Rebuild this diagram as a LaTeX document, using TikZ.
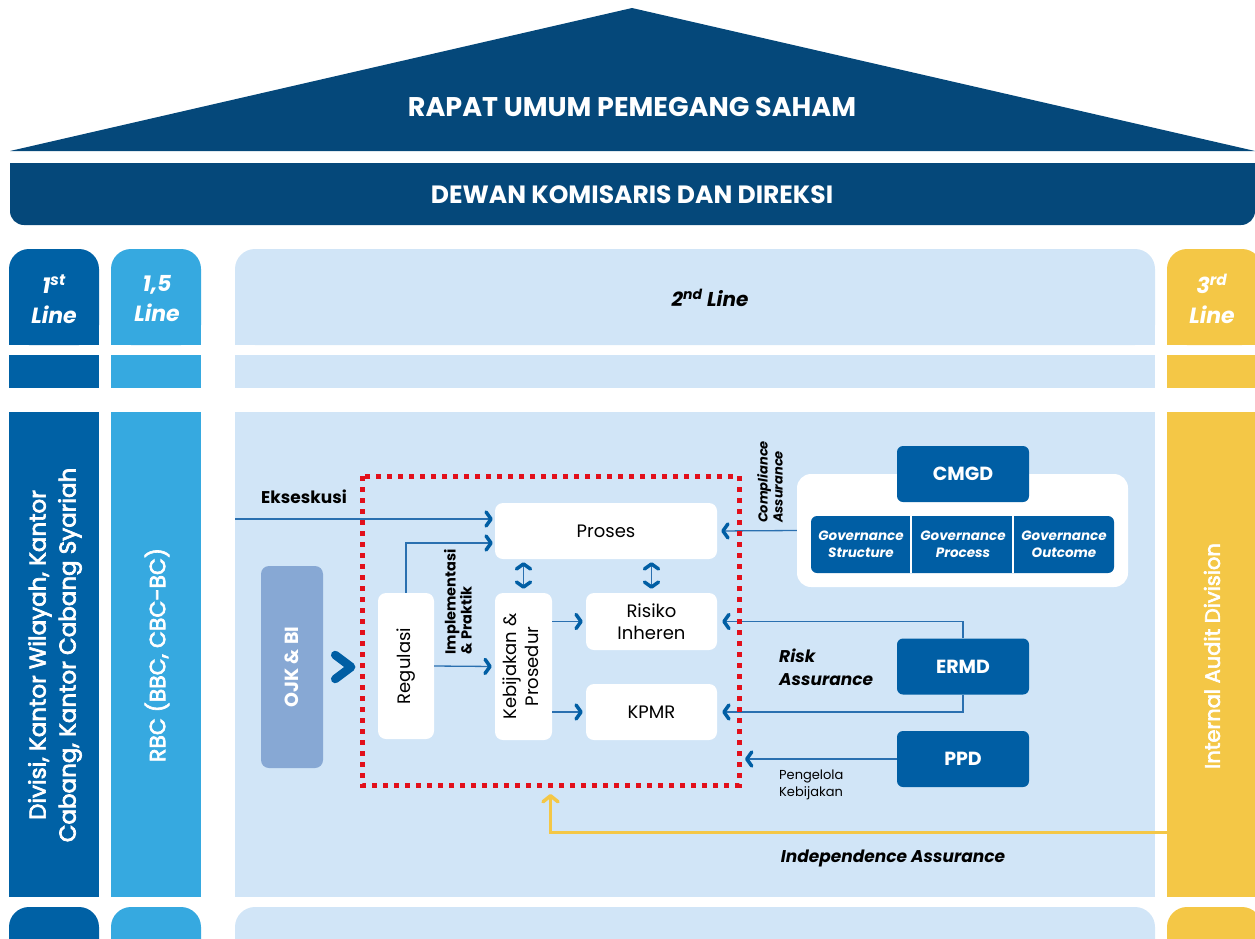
\documentclass[tikz,border=0pt]{standalone}
\usepackage{fontspec}
\setmainfont{Poppins}
\newfontfamily\medfont{Poppins}[FakeBold=3]
\usetikzlibrary{arrows.meta}

\definecolor{roofblue}{HTML}{05487A}
\definecolor{firstblue}{HTML}{0061A5}
\definecolor{halfblue}{HTML}{36A9E0}
\definecolor{secondblue}{HTML}{D1E5F7}
\definecolor{thirdyellow}{HTML}{F4C746}
\definecolor{unitblue}{HTML}{005EA4}
\definecolor{ojkblue}{HTML}{87A8D4}
\definecolor{linkblue}{HTML}{2A70B0}
\definecolor{dotred}{HTML}{E2101B}

\begin{document}
\begin{tikzpicture}[x=1pt, y=-1pt,
    every node/.style={inner sep=0pt},
    chev/.tip={Straight Barb[length=5pt,width=14pt,line width=3.5pt,round,color=unitblue]},
    ychev/.tip={Straight Barb[length=6pt,width=15pt,line width=3.5pt,round,color=thirdyellow]},
    link/.style={draw=linkblue, line width=1.3pt, -{chev}},
    twoway/.style={draw=linkblue, line width=1.2pt, {chev}-{chev}, shorten <=3pt, shorten >=4pt},
    yellowlink/.style={draw=thirdyellow, line width=3pt, -{ychev}},
    whitebox/.style={fill=white, rounded corners=8pt, align=center, font=\fontsize{18}{22}\selectfont},
    unitbox/.style={fill=unitblue, rounded corners=6pt, text=white, font=\bfseries\fontsize{19}{22}\selectfont, minimum width=132pt, minimum height=56pt},
    govtext/.style={text=white, align=center, minimum width=100pt, minimum height=57pt, font=\bfseries\itshape\fontsize{13.5}{17}\selectfont},
    colhead/.style={text=white, align=center, font=\bfseries\itshape\fontsize{22}{30}\selectfont},
    coltext/.style={rotate=90, text=white, align=center},
    boldlbl/.style={align=left, font=\bfseries\fontsize{17}{20}\selectfont},
    asslbl/.style={align=left, font=\bfseries\itshape\fontsize{17}{23}\selectfont}]

    \useasboundingbox (0,0) rectangle (1255,938);
    \clip (0,0) rectangle (1255,938);

    % Atap
    \fill[roofblue] (10,151) -- (632,8) -- (1255,151) -- cycle;
    \node[text=white, font=\bfseries\fontsize{27}{30}\selectfont] (rups) at (632,107) {RAPAT UMUM PEMEGANG SAHAM};
    \fill[roofblue, rounded corners=14pt] (10,163) rectangle (1255,225);
    \fill[roofblue] (10,163) rectangle (1255,190);
    \node[text=white, font=\bfseries\fontsize{25}{30}\selectfont] (dekom) at (632,195) {DEWAN KOMISARIS DAN DIREKSI};

    % Kolom
    \foreach \xa/\xb/\col in {9/99/firstblue, 111/201/halfblue, 235/1155/secondblue, 1167/1262/thirdyellow} {
        \fill[\col, rounded corners=20pt] (\xa,249) rectangle (\xb,345);
        \fill[\col] (\xa,290) rectangle (\xb,345);
        \fill[\col] (\xa,355) rectangle (\xb,388);
        \fill[\col] (\xa,412) rectangle (\xb,897);
        \fill[\col, rounded corners=20pt] (\xa,907) rectangle (\xb,960);
    }

    \node[colhead] (first) at (54,299) {1\textsuperscript{st}\\Line};
    \node[colhead] (half) at (157,299) {1,5\\Line};
    \node[colhead, text=black, font=\bfseries\itshape\fontsize{20}{24}\selectfont] (second) at (710,298) {2\textsuperscript{nd} Line};
    \node[colhead] (third) at (1212,299) {3\textsuperscript{rd}\\Line};

    \node[coltext, font=\medfont\fontsize{23}{30}\selectfont] (divisi) at (55,655) {Divisi, Kantor Wilayah, Kantor\\Cabang, Kantor Cabang Syariah};
    \node[coltext, font=\medfont\fontsize{22}{26}\selectfont] (rbc) at (157,655) {RBC (BBC, CBC-BC)};
    \node[coltext, font=\medfont\fontsize{21}{26}\selectfont] (iad) at (1212,656) {Internal Audit Division};

    % Regulator
    \node[fill=ojkblue, rounded corners=8pt, minimum width=62pt, minimum height=202pt, text=white, font=\bfseries\fontsize{19}{22}\selectfont] (ojk) at (292,667) {\rotatebox{90}{OJK \& BI}};
    \draw[unitblue, line width=8.5pt, line cap=round, line join=round] ([shift={(12,-12)}]ojk.east) -- ++(16,12) -- ++(-16,12);

    % Batas merah (digambar nanti)
    \node[outer sep=0pt, minimum width=377pt, minimum height=309pt] (redbox) at (550.5,630.5) {};

    % Kotak proses
    \node[whitebox, minimum width=222pt, minimum height=56pt] (proses) at (606,531) {Proses};
    \node[whitebox, minimum width=131pt, minimum height=57pt] (risiko) at (651.5,621.5) {Risiko\\Inheren};
    \node[whitebox, minimum width=131pt, minimum height=56pt] (kpmr) at (651.5,712) {KPMR};
    \node[whitebox, minimum width=56pt, minimum height=146pt] (reg) at (406,666) {\rotatebox{90}{Regulasi}};
    \node[whitebox, minimum width=57pt, minimum height=147pt] (keb) at (523.5,666.5) {\rotatebox{90}{\begin{tabular}{@{}c@{}}Kebijakan \&\\Prosedur\end{tabular}}};

    % Governance
    \node[fill=white, rounded corners=14pt, minimum width=331pt, minimum height=113pt] (govbox) at (962.5,530.5) {};
    \node[unitbox] (cmgd) at (963,474) {CMGD};
    \fill[unitblue, rounded corners=6pt] (811,516) rectangle (1114,573);
    \node[govtext] (gstruct) at (861,544.5) {Governance\\Structure};
    \node[govtext] (gproc) at (963,544.5) {Governance\\Process};
    \node[govtext] (gout) at (1064,544.5) {Governance\\Outcome};
    \draw[white, line width=2.5pt] (gstruct.north east) -- (gstruct.south east);
    \draw[white, line width=2.5pt] (gproc.north east) -- (gproc.south east);

    \node[unitbox] (ermd) at (963,666.5) {ERMD};
    \node[unitbox] (ppd) at (963,759) {PPD};

    % Label
    \node[boldlbl] (eks) at (304,497) {Ekseskusi};
    \node[rotate=90, align=left, font=\bfseries\fontsize{14.5}{16}\selectfont] (impl) at (458,602) {Implementasi\\\& Praktik};
    \node[rotate=90, align=left, font=\bfseries\itshape\fontsize{13}{15}\selectfont] (comp) at (770,482) {Compliance\\Assurance};
    \node[asslbl, anchor=west] (risk) at (779,667) {Risk\\Assurance};
    \node[align=left, anchor=west, font=\fontsize{13}{17}\selectfont] (pengelola) at (779,785) {Pengelola\\Kebijakan};
    \node[asslbl] (indep) at (893,858) {Independence Assurance};

    % Panah
    \coordinate (eksin) at (235,519);
    \coordinate (iadin) at (1167,832);
    \draw[link, shorten >=2pt] (eksin) -- (eksin -| proses.west);
    \draw[link, shorten >=2pt] (reg.north) |- ([yshift=-12pt]proses.west);
    \draw[link, shorten >=3pt] (reg.east) -- (keb.west);
    \draw[link, shorten >=3pt] (keb.east |- risiko.west) -- (risiko.west);
    \draw[link, shorten >=3pt] (keb.east |- kpmr.west) -- (kpmr.west);
    \draw[twoway] (keb.north |- proses.south) -- (keb.north);
    \draw[twoway] (risiko.north |- proses.south) -- (risiko.north);
    \draw[link, shorten >=4pt] (govbox.west) -- (proses.east);
    \draw[link, shorten >=5pt] (ermd.north) |- (risiko.east);
    \draw[link, shorten >=5pt] (ermd.south) |- (kpmr.east);
    \draw[link] (ppd.west) -- ([xshift=6pt]ppd.west -| redbox.east);

    \draw[dotred, line width=5pt, dash pattern=on 5pt off 6pt] (redbox.north west) rectangle (redbox.south east);

    \draw[yellowlink] (iadin) -| ([yshift=-9pt]redbox.south);
\end{tikzpicture}
\end{document}
